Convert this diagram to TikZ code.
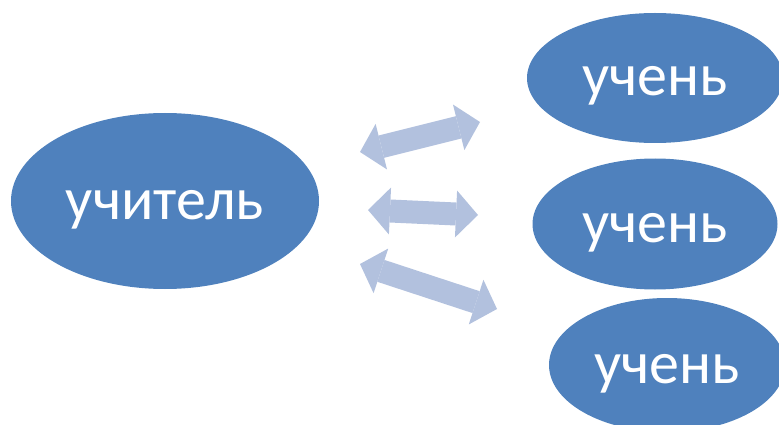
\documentclass[tikz,border=0pt]{standalone}
\usepackage{fontspec}
\setmainfont{Carlito}
\usetikzlibrary{shapes.geometric,arrows.meta}
\definecolor{ovalblue}{HTML}{4F81BD}
\definecolor{arrowblue}{HTML}{B2C1DE}
\tikzset{oval/.style={ellipse,fill=ovalblue,inner sep=0pt,text=white,font=\fontsize{60}{60}\selectfont,text height=36pt,text depth=0pt},
biarrow/.style={arrowblue,line width=23pt,{Triangle[width=47pt,length=22pt,line width=0pt]}-{Triangle[width=47pt,length=22pt,line width=0pt]}}}
\begin{document}
\begin{tikzpicture}[x=1pt,y=-1pt]
\useasboundingbox (0,0) rectangle (779,425);
\node[oval,minimum width=308pt,minimum height=176pt] (teacher) at (165,201) {учитель};
\node[oval,minimum width=256pt,minimum height=130pt] (pupilA) at (655,78) {учень};
\node[oval,minimum width=245pt,minimum height=131pt] (pupilB) at (655,224) {учень};
\node[oval,minimum width=236pt,minimum height=134pt] (pupilC) at (667,365) {учень};
\coordinate (a1l) at (360,152);\coordinate (a1r) at (480,122);
\coordinate (a2l) at (368,210);\coordinate (a2r) at (478,215);
\coordinate (a3l) at (360,264);\coordinate (a3r) at (497,309);
\draw[biarrow](a1l)--(a1r);
\draw[biarrow](a2l)--(a2r);
\draw[biarrow](a3l)--(a3r);
\end{tikzpicture}
\end{document}
